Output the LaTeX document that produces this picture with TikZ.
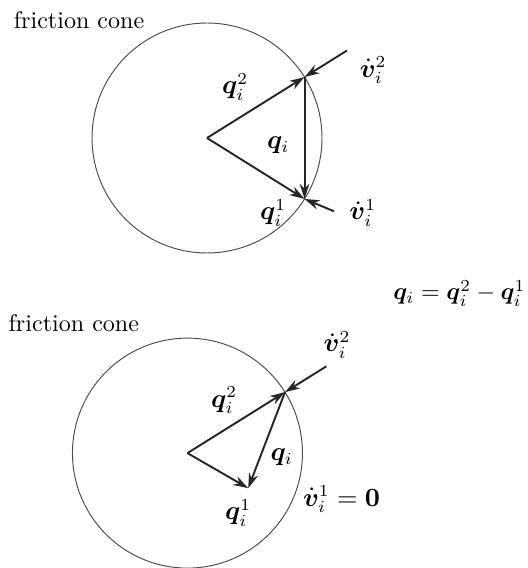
\documentclass[tikz,border=0pt]{standalone}
\usepackage{amsmath}
\usepackage{bm}
\usetikzlibrary{arrows.meta}
\begin{document}
\begin{tikzpicture}[x=0.84cm, y=0.84cm,
    every node/.style={font=\fontsize{10.5}{12.6}\selectfont, inner sep=1pt},
    titulo/.style={font=\normalsize, anchor=west},
    vec/.style={thick, black!85, -{Stealth[length=2.2mm, width=1.4mm]}},
    cono/.style={black!70, line width=0.4pt}]
        \useasboundingbox (-3.6,2.4) rectangle (5.565,-7.478);
        % Caso con dos velocidades
        \begin{scope}
            \coordinate (O1) at (0,0);
            \coordinate (A1) at (32:2);
            \coordinate (B1) at (-32:2);
            \coordinate (V1a) at (32:2.87);
            \coordinate (V1b) at (-30:2.55);
            % Cono de friccion
            \draw[cono] (O1) circle (2);
            \node[titulo] (fc1) at (-3.41,2.05) {friction cone};
            % Vectores
            \draw[vec] (O1) -- (A1);
            \draw[vec] (O1) -- (B1);
            \draw[vec] (A1) -- (B1);
            \draw[vec] (V1a) -- (A1);
            \draw[vec] (V1b) -- (B1);
            \node (q2a) at (0.49,0.89) {$\bm{q}_i^2$};
            \node (qa) at (1.24,-0.12) {$\bm{q}_i$};
            \node (q1a) at (1.15,-1.30) {$\bm{q}_i^1$};
            \node (v2a) at (2.89,1.18) {$\dot{\bm{v}}_i^2$};
            \node (v1a) at (2.71,-1.30) {$\dot{\bm{v}}_i^1$};
        \end{scope}

        % Caso con una velocidad nula
        \begin{scope}[shift={(-0.34,-5.48)}]
            \coordinate (O2) at (0,0);
            \coordinate (A2) at (32:2);
            \coordinate (B2) at (-30:1.22);
            \coordinate (V2a) at (32:2.85);
            \draw[cono] (O2) circle (2);
            \node[titulo] (fc2) at (-3.16,2.26) {friction cone};
            \node[anchor=west, font=\normalsize] (eq) at (3.53,2.78) {$\bm{q}_i = \bm{q}_i^2 - \bm{q}_i^1$};
            % Vectores
            \draw[vec] (O2) -- (A2);
            \draw[vec] (O2) -- (B2);
            \draw[vec] (A2) -- (B2);
            \draw[vec] (V2a) -- (A2);
            \node (q2b) at (0.64,0.92) {$\bm{q}_i^2$};
            \node (qb) at (1.64,-0.07) {$\bm{q}_i$};
            \node (q1b) at (0.88,-1.04) {$\bm{q}_i^1$};
            \node (v2b) at (2.60,1.88) {$\dot{\bm{v}}_i^2$};
            \node (v1b) at (2.68,-0.80) {$\dot{\bm{v}}_i^1 = \bm{0}$};
        \end{scope}
    \end{tikzpicture}
\end{document}
